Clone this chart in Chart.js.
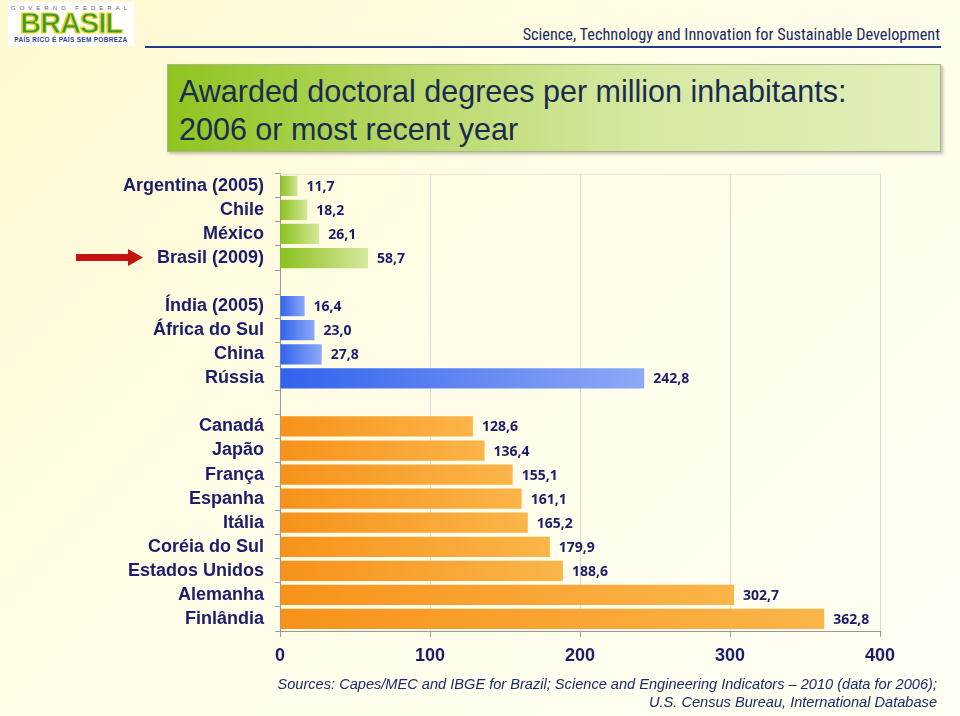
<!DOCTYPE html>
<html>
<head>
<meta charset="utf-8">
<script src="https://cdn.jsdelivr.net/npm/chart.js@4.4.1/dist/chart.umd.min.js"></script>
<style>
  html, body { margin: 0; padding: 0; }
  body {
    width: 960px; height: 716px; position: relative; overflow: hidden;
    background: linear-gradient(135deg, #fff9cf 0%, #fffde8 45%, #fffff4 100%);
    font-family: "Liberation Sans", Arial, sans-serif;
  }
  #logo {
    position: absolute; left: 8px; top: 2px; width: 126px; height: 44px;
    background: #fff; text-align: center;
  }
  #logo .gov { font-size: 6px; letter-spacing: 4px; color: #666; margin-top: 3px; }
  #logo .br { font-size: 29px; font-weight: 900; color: #2e9d3a; line-height: 25px; letter-spacing: -1px;
    -webkit-text-stroke: 1.2px #f0cf10; }
  #logo .tag { font-size: 6.5px; color: #34488a; font-weight: bold; letter-spacing: 0.3px; }
  #header {
    position: absolute; right: 20px; top: 25px; font-size: 16.3px; color: #1b2a6b;
    font-family: "Liberation Sans Narrow", "Roboto Condensed", "Liberation Sans", Arial, sans-serif;
  }
  #rule { position: absolute; left: 145px; top: 46px; width: 796px; height: 2px; background: #1f3b8a; }
  #titlebox {
    position: absolute; left: 167px; top: 64px; width: 772px; height: 86px;
    background: linear-gradient(90deg, #8fc41f 0%, #b6d765 30%, #d5e8a0 60%, #e2efbb 100%);
    border: 1px solid #a9b38f; box-shadow: 2px 2px 3px rgba(0,0,0,0.25);
  }
  #titlebox div {
    position: absolute; left: 11px; top: 7px; font-size: 30.5px; line-height: 38px; color: #1a2b4f;
  }
  #arrow { position: absolute; left: 76px; top: 248px; }
  #wrap { position: absolute; left: 0; top: 152px; width: 960px; height: 528px; }
  #sources {
    position: absolute; right: 23px; top: 675px; text-align: right; font-style: italic;
    font-size: 14.6px; line-height: 18px; color: #1b2a6b;
  }
</style>
</head>
<body>
<div id="logo">
  <div class="gov">GOVERNO FEDERAL</div>
  <div class="br">BRASIL</div>
  <div class="tag">PAÍS RICO É PAÍS SEM POBREZA</div>
</div>
<div id="header">Science, Technology and Innovation for Sustainable Development</div>
<div id="rule"></div>
<div id="titlebox"><div>Awarded doctoral degrees per million inhabitants:<br>2006 or most recent year</div></div>
<svg id="arrow" width="70" height="20">
  <polygon points="0,6 52,6 52,1 67,9.5 52,18 52,13 0,13" fill="#c4120f"/>
</svg>
<div id="wrap"><canvas id="chart"></canvas></div>
<div id="sources">Sources: Capes/MEC and IBGE for Brazil; Science and Engineering Indicators – 2010 (data for 2006);<br>U.S. Census Bureau, International Database</div>

<script>
// countries, top to bottom; empty strings are the gaps between groups
const countries = ['Argentina (2005)', 'Chile', 'México', 'Brasil (2009)', '',
  'Índia (2005)', 'África do Sul', 'China', 'Rússia', '',
  'Canadá', 'Japão', 'França', 'Espanha', 'Itália', 'Coréia do Sul', 'Estados Unidos', 'Alemanha', 'Finlândia'];
const doctorates = [11.7, 18.2, 26.1, 58.7, null,
  16.4, 23.0, 27.8, 242.8, null,
  128.6, 136.4, 155.1, 161.1, 165.2, 179.9, 188.6, 302.7, 362.8];
// 0 = Latin America, 1 = BRICS, 2 = OECD
const groups = [0, 0, 0, 0, null, 1, 1, 1, 1, null, 2, 2, 2, 2, 2, 2, 2, 2, 2];
const xTicks = [0, 100, 200, 300, 400];

const groupColors = [
  ['#8bc11c', '#d6e9a0'],
  ['#3262ee', '#8eaaf6'],
  ['#f7921a', '#fbb549']
];
const navy = '#1b1d6a';

function barFill(ctx) {
  const g = groups[ctx.dataIndex];
  if (g == null) return 'rgba(0,0,0,0)';
  const chart = ctx.chart;
  const x = chart.scales && chart.scales.x;
  if (!x || !chart.chartArea) return groupColors[g][0];
  const x0 = x.getPixelForValue(0);
  const x1 = x.getPixelForValue(doctorates[ctx.dataIndex]);
  const grad = chart.ctx.createLinearGradient(x0, 0, x1 + 1, 0);
  grad.addColorStop(0, groupColors[g][0]);
  grad.addColorStop(1, groupColors[g][1]);
  return grad;
}

const valueLabels = {
  id: 'valueLabels',
  afterDatasetsDraw(chart) {
    const c = chart.ctx;
    const meta = chart.getDatasetMeta(0);
    c.save();
    c.font = 'bold 14px "Open Sans", sans-serif';
    c.fillStyle = navy;
    c.textBaseline = 'middle';
    meta.data.forEach((bar, i) => {
      const v = doctorates[i];
      if (v == null) return;
      c.fillText(v.toFixed(1).replace('.', ','), bar.x + 9, bar.y + 1);
    });
    c.restore();
  }
};

const frame = {
  id: 'frame',
  beforeDatasetsDraw(chart) {
    const a = chart.chartArea, c = chart.ctx;
    c.save();
    c.strokeStyle = '#e3e3dc';
    c.lineWidth = 1;
    c.beginPath();
    c.moveTo(a.left, a.top + 0.5);
    c.lineTo(a.right, a.top + 0.5);
    c.stroke();
    c.restore();
  }
};

new Chart(document.getElementById('chart'), {
  type: 'bar',
  data: {
    labels: countries,
    datasets: [{
      data: doctorates,
      backgroundColor: barFill,
      categoryPercentage: 1,
      barPercentage: 0.84
    }]
  },
  options: {
    indexAxis: 'y',
    responsive: true,
    maintainAspectRatio: false,
    animation: false,
    layout: { padding: { top: 6, right: 80, left: 0, bottom: 0 } },
    plugins: { legend: { display: false }, tooltip: { enabled: false } },
    scales: {
      x: {
        min: 0, max: 400,
        afterBuildTicks: (s) => { s.ticks = xTicks.map(v => ({ value: v })); },
        afterFit: (s) => { s.height = 49; },
        grid: { color: '#dcdcd4', tickColor: '#999', tickLength: 6 },
        border: { color: '#999' },
        ticks: { color: navy, font: { family: 'Liberation Sans, Arial', size: 18, weight: 'bold' }, padding: 8 }
      },
      y: {
        afterFit: (s) => { s.width = 280; },
        grid: { offset: true, drawOnChartArea: false, tickLength: 5, tickColor: '#999' },
        border: { color: '#999' },
        ticks: { color: navy, font: { family: 'Liberation Sans, Arial', size: 18, weight: 'bold' }, padding: 11, autoSkip: false }
      }
    }
  },
  plugins: [frame, valueLabels]
});
</script>
</body>
</html>
